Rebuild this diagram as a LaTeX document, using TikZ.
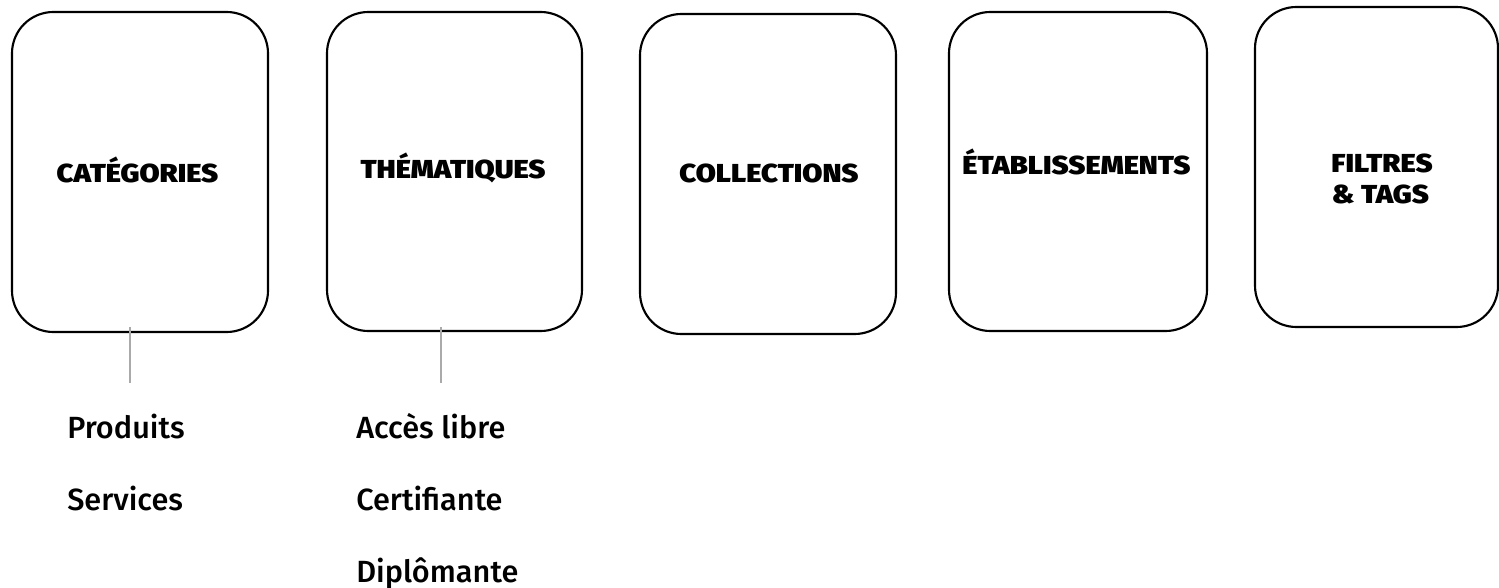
\documentclass[tikz,border=0pt]{standalone}
\usepackage{fontspec}
\setmainfont{Fira Sans}[UprightFont=* Medium]
\newfontfamily\heavy{Fira Sans}[UprightFont=* Black,FakeStretch=1.12]
\begin{document}
\begin{tikzpicture}[x=0.75pt,y=-0.75pt,
  card/.style={draw=black,line width=1.6pt,rounded corners=31pt,inner sep=0pt},
  title/.style={font=\heavy\fontsize{19.5}{23}\selectfont,anchor=base,inner sep=0pt},
  item/.style={font=\fontsize{23}{26}\selectfont,anchor=base west,inner sep=0pt},
  stem/.style={draw={rgb,255:red,170;green,170;blue,170},line width=1.8pt}]
\useasboundingbox (0,0) rectangle (1499,588);
\node[card,minimum width=256*0.75pt,minimum height=320*0.75pt] (b1) at (140,172) {};
\node[card,minimum width=255*0.75pt,minimum height=319*0.75pt] (b2) at (454.5,171.5) {};
\node[card,minimum width=256*0.75pt,minimum height=320*0.75pt] (b3) at (768,174) {};
\node[card,minimum width=258*0.75pt,minimum height=319*0.75pt] (b4) at (1078,171.5) {};
\node[card,minimum width=243*0.75pt,minimum height=320*0.75pt] (b5) at (1376.5,167) {};
\node[title] (t1) at (137.5,182.5) {CATÉGORIES};
\node[title] (t2) at (453,179) {THÉMATIQUES};
\node[title] (t3) at (769,182.5) {COLLECTIONS};
\node[title] (t4) at (1076.5,175) {ÉTABLISSEMENTS};
\node[title] (t5a) at (1382,173) {FILTRES};
\node[title] (t5b) at (1380.5,204) {\& TAGS};
\coordinate (s1a) at (130,327);
\coordinate (s1b) at (130,383);
\coordinate (s2a) at (441,327);
\coordinate (s2b) at (441,383);
\draw[stem] (s1a) -- (s1b);
\draw[stem] (s2a) -- (s2b);
\node[item] (p1) at (67,438) {Produits};
\node[item] (p2) at (67,510) {Services};
\node[item] (q1) at (356,438) {Accès libre};
\node[item] (q2) at (356,510) {Certifiante};
\node[item] (q3) at (356,582) {Diplômante};
\end{tikzpicture}
\end{document}
